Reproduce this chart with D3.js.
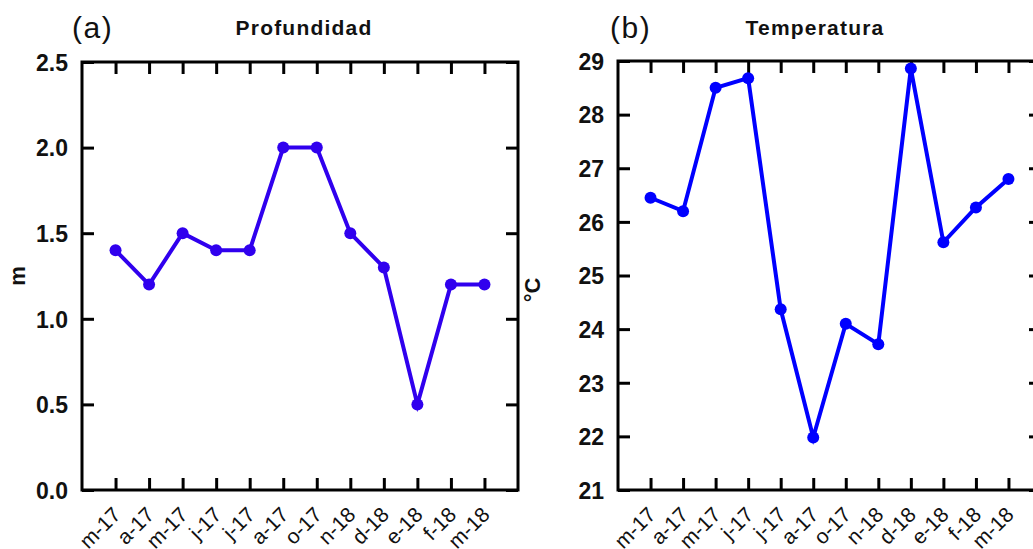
<!DOCTYPE html>
<html>
<head>
<meta charset="utf-8">
<script src="https://cdn.jsdelivr.net/npm/d3@7"></script>
<style>
  body { margin: 0; background: #fff; }
  svg { display: block; }
  text { font-family: "Liberation Sans", Arial, sans-serif; fill: #111; }
</style>
</head>
<body>
<svg id="chart" width="1033" height="549"></svg>
<script>
// ** DATA *****************************************
const months = ["m-17", "a-17", "m-17", "j-17", "j-17", "a-17", "o-17", "n-18", "d-18", "e-18", "f-18", "m-18"];
const depth = [1.4, 1.2, 1.5, 1.4, 1.4, 2.0, 2.0, 1.5, 1.3, 0.5, 1.2, 1.2];
const temperature = [26.45, 26.2, 28.5, 28.68, 24.37, 21.98, 24.1, 23.72, 28.86, 25.62, 26.27, 26.8];
const depthTicks = [0, 0.5, 1.0, 1.5, 2.0, 2.5];
const tempTicks = [21, 22, 23, 24, 25, 26, 27, 28, 29];

const svg = d3.select("#chart");

drawPanel = function(cfg)
{
    let g = svg.append("g").attr("class", "panel");

    //** SCALES *****************************************
    let xScale = d3.scalePoint()
        .domain(d3.range(months.length))
        .range([cfg.left, cfg.right])
        .padding(1);

    let yScale = d3.scaleLinear()
        .domain(cfg.domain)
        .range([cfg.bottom, cfg.top]);

    //** AXES (all ticks point inward) ******************
    let yLeft = g.append("g")
        .attr("transform", "translate(" + cfg.left + ",0)")
        .call(d3.axisLeft(yScale).tickValues(cfg.ticks).tickFormat(cfg.format)
            .tickSize(-12).tickPadding(14));
    yLeft.selectAll("text")
        .attr("dy", "0.36em")
        .style("font-size", "23px")
        .style("font-weight", "bold");

    g.append("g")
        .attr("transform", "translate(" + cfg.right + ",0)")
        .call(d3.axisRight(yScale).tickValues(cfg.ticks).tickSize(-12).tickFormat(""));

    g.append("g")
        .attr("transform", "translate(0," + cfg.top + ")")
        .call(d3.axisTop(xScale).tickSize(-12).tickFormat(""));

    let xAxis = g.append("g")
        .attr("transform", "translate(0," + cfg.bottom + ")")
        .call(d3.axisBottom(xScale).tickSize(-12).tickFormat(i => months[i]));
    xAxis.selectAll("text")
        .attr("y", null)
        .attr("dy", null)
        .attr("text-anchor", "end")
        .attr("transform", "translate(6,26) rotate(-45)")
        .style("font-size", "21px");

    g.selectAll(".domain").remove();
    g.selectAll(".tick line")
        .attr("stroke", "#000")
        .attr("stroke-width", 3);

    //frame
    g.append("rect")
        .attr("x", cfg.left)
        .attr("y", cfg.top)
        .attr("width", cfg.right - cfg.left)
        .attr("height", cfg.bottom - cfg.top)
        .attr("fill", "none")
        .attr("stroke", "#000")
        .attr("stroke-width", 3);

    //** LABELS *****************************************
    g.append("text")
        .attr("x", cfg.tagX)
        .attr("y", 38)
        .style("font-size", "30px")
        .style("letter-spacing", "1.5px")
        .text(cfg.tag);

    g.append("text")
        .attr("x", cfg.titleX)
        .attr("y", 35)
        .attr("text-anchor", "middle")
        .style("font-size", "21px")
        .style("font-weight", "bold")
        .style("letter-spacing", "1.2px")
        .text(cfg.title);

    g.append("text")
        .attr("text-anchor", "middle")
        .attr("transform", "translate(" + cfg.ylabX + "," + cfg.ylabY + ") rotate(-90)")
        .style("font-size", "22px")
        .style("font-weight", "bold")
        .text(cfg.ylabel);

    //** LINE + POINTS **********************************
    let line = d3.line()
        .x((d, i) => xScale(i))
        .y(d => yScale(d));

    g.append("path")
        .datum(cfg.values)
        .attr("d", line)
        .attr("fill", "none")
        .attr("stroke", cfg.colour)
        .attr("stroke-width", 4);

    g.selectAll("circle")
        .data(cfg.values)
        .enter()
        .append("circle")
        .attr("cx", (d, i) => xScale(i))
        .attr("cy", d => yScale(d))
        .attr("r", 6)
        .attr("fill", cfg.colour);
};

drawPanel({
    left: 82, right: 518, top: 62, bottom: 490,
    domain: [0, 2.5], ticks: depthTicks, format: d3.format(".1f"),
    values: depth, colour: "#3000ee",
    tag: "(a)", tagX: 72, title: "Profundidad", titleX: 304,
    ylabel: "m", ylabX: 25, ylabY: 276
});

drawPanel({
    left: 618, right: 1041, top: 61, bottom: 490,
    domain: [21, 29], ticks: tempTicks, format: d3.format("d"),
    values: temperature, colour: "#0000ff",
    tag: "(b)", tagX: 610, title: "Temperatura", titleX: 815,
    ylabel: "°C", ylabX: 540, ylabY: 290
});
</script>
</body>
</html>
